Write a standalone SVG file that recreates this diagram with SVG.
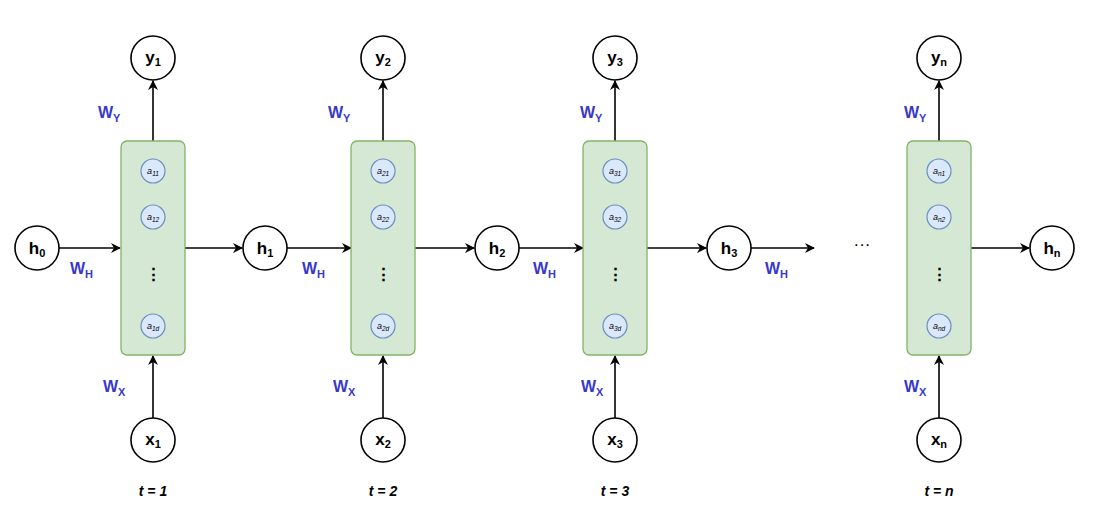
<svg xmlns="http://www.w3.org/2000/svg" width="1100" height="527" viewBox="0 0 1100 527">
<defs>
<marker id="ar" viewBox="0 0 10 10" refX="9" refY="5" markerWidth="10" markerHeight="10" markerUnits="userSpaceOnUse" orient="auto"><path d="M0,0 L10,5 L0,10 L3,5 Z" fill="#000"/></marker>
<style>
.n{fill:#fff;stroke:#000;stroke-width:1.6}
.c{fill:#d5e8d4;stroke:#82b366;stroke-width:1.3}
.a{fill:#dae8fc;stroke:#6c8ebf;stroke-width:1.2}
.t{font-family:"Liberation Sans",Arial,sans-serif;font-size:17px;font-weight:bold;text-anchor:middle;fill:#000}
.s{font-size:11px}
.w{font-family:"Liberation Sans",Arial,sans-serif;font-size:16px;font-weight:bold;fill:#3838c8}
.ws{font-size:11px}
.i{font-family:"Liberation Sans",Arial,sans-serif;font-size:9px;font-style:italic;text-anchor:middle;fill:#000}
.is{font-size:6.5px}
.tl{font-family:"Liberation Sans",Arial,sans-serif;font-size:14px;font-style:italic;font-weight:bold;text-anchor:middle}
.e{stroke:#000;stroke-width:1.6;fill:none;marker-end:url(#ar)}
</style>
</defs>
<g id="connectors">
<line class="e" x1="59" y1="248" x2="120" y2="248"/>
<line class="e" x1="185" y1="248" x2="242" y2="248"/>
<line class="e" x1="287" y1="248" x2="351" y2="248"/>
<line class="e" x1="415" y1="248" x2="474" y2="248"/>
<line class="e" x1="519" y1="248" x2="583" y2="248"/>
<line class="e" x1="647" y1="248" x2="706" y2="248"/>
<line class="e" x1="751" y1="248" x2="814" y2="248"/>
<line class="e" x1="971" y1="248" x2="1029" y2="248"/>
<line class="e" x1="153" y1="141" x2="153" y2="81"/>
<line class="e" x1="383" y1="141" x2="383" y2="81"/>
<line class="e" x1="615" y1="141" x2="615" y2="81"/>
<line class="e" x1="939" y1="141" x2="939" y2="81"/>
<line class="e" x1="153" y1="418" x2="153" y2="356"/>
<line class="e" x1="383" y1="418" x2="383" y2="356"/>
<line class="e" x1="615" y1="418" x2="615" y2="356"/>
<line class="e" x1="939" y1="418" x2="939" y2="356"/>
</g>
<g id="labels">
<text class="w" x="98" y="118">W<tspan class="ws" dy="4">Y</tspan></text>
<text class="w" x="328" y="118">W<tspan class="ws" dy="4">Y</tspan></text>
<text class="w" x="580" y="118">W<tspan class="ws" dy="4">Y</tspan></text>
<text class="w" x="904" y="118">W<tspan class="ws" dy="4">Y</tspan></text>
<text class="w" x="70" y="274">W<tspan class="ws" dy="4">H</tspan></text>
<text class="w" x="302" y="274">W<tspan class="ws" dy="4">H</tspan></text>
<text class="w" x="533" y="274">W<tspan class="ws" dy="4">H</tspan></text>
<text class="w" x="765" y="274">W<tspan class="ws" dy="4">H</tspan></text>
<text class="w" x="103" y="392">W<tspan class="ws" dy="4">X</tspan></text>
<text class="w" x="333" y="392">W<tspan class="ws" dy="4">X</tspan></text>
<text class="w" x="581" y="392">W<tspan class="ws" dy="4">X</tspan></text>
<text class="w" x="904" y="392">W<tspan class="ws" dy="4">X</tspan></text>
<text class="t" x="862" y="250" style="font-weight:normal">···</text>
<text class="tl" x="153" y="496">t = 1</text>
<text class="tl" x="383" y="496">t = 2</text>
<text class="tl" x="615" y="496">t = 3</text>
<text class="tl" x="939" y="496">t = n</text>
</g>
<g id="h0"><circle class="n" cx="37" cy="248" r="22"/><text class="t" x="37" y="254">h<tspan class="s" dy="3">0</tspan></text></g>
<g id="h1"><circle class="n" cx="265" cy="248" r="22"/><text class="t" x="265" y="254">h<tspan class="s" dy="3">1</tspan></text></g>
<g id="h2"><circle class="n" cx="497" cy="248" r="22"/><text class="t" x="497" y="254">h<tspan class="s" dy="3">2</tspan></text></g>
<g id="h3"><circle class="n" cx="729" cy="248" r="22"/><text class="t" x="729" y="254">h<tspan class="s" dy="3">3</tspan></text></g>
<g id="hn"><circle class="n" cx="1052" cy="248" r="22"/><text class="t" x="1052" y="254">h<tspan class="s" dy="3">n</tspan></text></g>
<g id="y1"><circle class="n" cx="153" cy="58" r="22"/><text class="t" x="153" y="63">y<tspan class="s" dy="3">1</tspan></text></g>
<g id="y2"><circle class="n" cx="383" cy="58" r="22"/><text class="t" x="383" y="63">y<tspan class="s" dy="3">2</tspan></text></g>
<g id="y3"><circle class="n" cx="615" cy="58" r="22"/><text class="t" x="615" y="63">y<tspan class="s" dy="3">3</tspan></text></g>
<g id="yn"><circle class="n" cx="939" cy="58" r="22"/><text class="t" x="939" y="63">y<tspan class="s" dy="3">n</tspan></text></g>
<g id="x1"><circle class="n" cx="153" cy="440" r="22"/><text class="t" x="153" y="445">x<tspan class="s" dy="3">1</tspan></text></g>
<g id="x2"><circle class="n" cx="383" cy="440" r="22"/><text class="t" x="383" y="445">x<tspan class="s" dy="3">2</tspan></text></g>
<g id="x3"><circle class="n" cx="615" cy="440" r="22"/><text class="t" x="615" y="445">x<tspan class="s" dy="3">3</tspan></text></g>
<g id="xn"><circle class="n" cx="939" cy="440" r="22"/><text class="t" x="939" y="445">x<tspan class="s" dy="3">n</tspan></text></g>
<g id="cell1"><rect class="c" x="121" y="141" width="64" height="214" rx="6"/>
<circle class="a" cx="153" cy="171" r="12"/><text class="i" x="153" y="174">a<tspan class="is" dy="2">11</tspan></text>
<circle class="a" cx="153" cy="217" r="12"/><text class="i" x="153" y="220">a<tspan class="is" dy="2">12</tspan></text>
<text class="t" x="153" y="280">⋮</text>
<circle class="a" cx="153" cy="326" r="12"/><text class="i" x="153" y="329">a<tspan class="is" dy="2">1d</tspan></text></g>
<g id="cell2"><rect class="c" x="351" y="141" width="64" height="214" rx="6"/>
<circle class="a" cx="383" cy="171" r="12"/><text class="i" x="383" y="174">a<tspan class="is" dy="2">21</tspan></text>
<circle class="a" cx="383" cy="217" r="12"/><text class="i" x="383" y="220">a<tspan class="is" dy="2">22</tspan></text>
<text class="t" x="383" y="280">⋮</text>
<circle class="a" cx="383" cy="326" r="12"/><text class="i" x="383" y="329">a<tspan class="is" dy="2">2d</tspan></text></g>
<g id="cell3"><rect class="c" x="583" y="141" width="64" height="214" rx="6"/>
<circle class="a" cx="615" cy="171" r="12"/><text class="i" x="615" y="174">a<tspan class="is" dy="2">31</tspan></text>
<circle class="a" cx="615" cy="217" r="12"/><text class="i" x="615" y="220">a<tspan class="is" dy="2">32</tspan></text>
<text class="t" x="615" y="280">⋮</text>
<circle class="a" cx="615" cy="326" r="12"/><text class="i" x="615" y="329">a<tspan class="is" dy="2">3d</tspan></text></g>
<g id="celln"><rect class="c" x="907" y="141" width="64" height="214" rx="6"/>
<circle class="a" cx="939" cy="171" r="12"/><text class="i" x="939" y="174">a<tspan class="is" dy="2">n1</tspan></text>
<circle class="a" cx="939" cy="217" r="12"/><text class="i" x="939" y="220">a<tspan class="is" dy="2">n2</tspan></text>
<text class="t" x="939" y="280">⋮</text>
<circle class="a" cx="939" cy="326" r="12"/><text class="i" x="939" y="329">a<tspan class="is" dy="2">nd</tspan></text></g>
</svg>
